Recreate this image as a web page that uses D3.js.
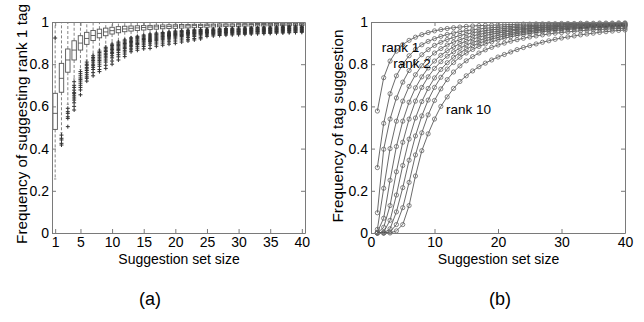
<!DOCTYPE html>
<html><head><meta charset="utf-8">
<script src="https://cdn.jsdelivr.net/npm/d3@7"></script>
<style>body{margin:0;background:#fff}</style>
</head><body><svg id="c" width="644" height="322"></svg>
<script>
// ---------- data ----------
const setSizes = [1,2,3,4,5,6,7,8,9,10,11,12,13,14,15,16,17,18,19,20,21,22,23,24,25,26,27,28,29,30,31,32,33,34,35,36,37,38,39,40];
const leftXTicks = [1,5,10,15,20,25,30,35,40];
const rightXTicks = [0,10,20,30,40];
const yTicks = [0,0.2,0.4,0.6,0.8,1];

const boxQ1  = [.491,.667,.762,.820,.867,.894,.912,.925,.935,.943,.949,.954,.957,.960,.962,.964,.966,.968,.969,.970,.971,.972,.973,.974,.975,.976,.977,.978,.978,.979,.980,.980,.981,.981,.982,.982,.983,.983,.984,.984];
const boxMed = [.567,.733,.820,.867,.900,.922,.936,.946,.953,.959,.964,.967,.970,.972,.974,.976,.977,.978,.979,.980,.981,.982,.983,.983,.984,.985,.985,.986,.986,.987,.987,.988,.988,.988,.989,.989,.989,.990,.990,.990];
const boxQ3  = [.662,.804,.872,.911,.935,.951,.960,.966,.971,.975,.978,.980,.981,.982,.983,.984,.985,.986,.987,.987,.988,.988,.989,.989,.990,.990,.991,.991,.991,.992,.992,.992,.993,.993,.993,.993,.994,.994,.994,.994];
const boxWhiskerLow  = [.256,.475,.610,.730,.775,.820,.848,.870,.886,.900,.910,.920,.930,.935,.940,.945,.950,.952,.955,.958,.960,.962,.963,.965,.968,.969,.970,.971,.972,.973,.974,.975,.976,.977,.978,.979,.980,.981,.982,.983];
const boxWhiskerHigh = [1,1,1,1,1,1,1,1,1,1,1,1,1,1,1,1,1,1,1,1,1,1,1,1,1,1,1,1,1,1,1,1,1,1,1,1,1,1,1,1];
const boxOutliers = [
 [.924],
 [.464,.449,.441,.425,.417],
 [.591,.575,.567,.551,.543,.504],
 [.717,.70,.69,.677,.665,.66,.65,.64,.63,.617,.60,.583],
 [.765,.755,.745,.735,.728,.72,.71,.70,.69,.678,.655],
 [.81,.80,.795,.785,.778,.77,.76,.75,.74,.733,.72],
 [.84,.832,.825,.818,.81,.80,.793,.785,.775,.76,.745],
 [.862,.855,.848,.84,.833,.825,.818,.81,.80,.79,.775,.765],
 [.88,.873,.866,.86,.852,.845,.838,.83,.82,.81,.795,.78],
 [.895,.889,.882,.876,.87,.863,.856,.85,.84,.83,.815,.80],
 [.905,.90,.894,.888,.882,.876,.87,.864,.855,.845,.835,.82],
 [.915,.91,.904,.898,.892,.886,.88,.874,.866,.858,.848,.836],
 [.925,.92,.914,.908,.902,.896,.89,.885,.876,.868,.859],
 [.932,.927,.921,.915,.91,.904,.898,.893,.885,.876,.866],
 [.938,.933,.928,.922,.917,.911,.906,.90,.892,.884,.873],
 [.943,.938,.933,.928,.923,.918,.913,.907,.90,.89,.875],
 [.947,.942,.938,.933,.928,.923,.918,.913,.905,.896,.885],
 [.95,.946,.942,.937,.932,.928,.923,.918,.91,.90,.89],
 [.953,.949,.945,.941,.936,.932,.928,.923,.915,.906,.895],
 [.957,.953,.949,.945,.941,.937,.933,.928,.92,.91,.899],
 [.959,.955,.951,.947,.943,.94,.936,.931,.924,.915,.905],
 [.961,.957,.953,.95,.946,.943,.939,.934,.927,.918,.91],
 [.963,.959,.956,.952,.949,.946,.942,.937,.931,.922,.915],
 [.965,.961,.958,.955,.951,.948,.945,.94,.934,.926,.92],
 [.966,.962,.959,.956,.953,.95,.947,.943,.938,.932],
 [.967,.963,.96,.957,.954,.951,.948,.945,.94,.934],
 [.968,.964,.961,.958,.955,.952,.949,.946,.941,.936],
 [.969,.965,.962,.959,.956,.953,.95,.947,.943,.938],
 [.97,.966,.963,.96,.957,.954,.951,.948,.944,.939],
 [.971,.967,.964,.961,.958,.955,.952,.949,.945,.94],
 [.972,.968,.965,.962,.959,.956,.953,.95,.946,.942],
 [.973,.969,.966,.963,.96,.957,.954,.951,.947,.943],
 [.974,.97,.967,.964,.961,.958,.955,.952,.948,.944],
 [.975,.971,.968,.965,.962,.959,.956,.953,.949,.945],
 [.976,.972,.969,.966,.963,.96,.957,.954,.95,.946],
 [.977,.973,.97,.967,.964,.961,.958,.955,.951,.947],
 [.978,.974,.971,.968,.965,.962,.959,.956,.952,.948],
 [.979,.975,.972,.969,.966,.963,.96,.957,.953,.949],
 [.98,.976,.973,.97,.967,.964,.961,.958,.954,.95],
 [.981,.977,.974,.971,.968,.965,.962,.959,.955,.951]
];

const rank1  = [.578,.736,.815,.862,.893,.913,.928,.940,.950,.958,.964,.969,.973,.976,.979,.981,.983,.984,.985,.986,.987,.988,.989,.990,.990,.991,.991,.992,.992,.993,.993,.993,.994,.994,.994,.995,.995,.995,.996,.996];
const rank2  = [.310,.520,.660,.745,.800,.840,.870,.892,.908,.921,.932,.941,.948,.954,.959,.963,.967,.970,.973,.975,.977,.979,.981,.982,.983,.984,.985,.986,.987,.988,.988,.989,.989,.990,.990,.991,.991,.992,.992,.993];
const rank3  = [.096,.397,.540,.640,.715,.770,.812,.845,.869,.889,.904,.917,.927,.936,.943,.949,.954,.959,.963,.966,.969,.972,.974,.976,.978,.979,.981,.982,.983,.984,.985,.986,.987,.987,.988,.988,.989,.989,.990,.990];
const rank4  = [.017,.212,.400,.530,.625,.695,.750,.793,.827,.853,.874,.891,.905,.916,.926,.934,.941,.947,.952,.956,.960,.963,.966,.969,.971,.973,.975,.977,.978,.980,.981,.982,.983,.984,.985,.985,.986,.987,.987,.988];
const rank5  = [.004,.070,.250,.410,.530,.620,.688,.740,.782,.815,.842,.864,.882,.897,.909,.919,.928,.936,.942,.948,.953,.957,.961,.964,.967,.970,.972,.974,.976,.977,.979,.980,.981,.982,.983,.984,.985,.985,.986,.986];
const rank6  = [0,.027,.130,.290,.430,.540,.625,.690,.740,.780,.812,.838,.859,.876,.891,.903,.913,.922,.930,.937,.942,.947,.952,.956,.960,.963,.966,.968,.970,.972,.974,.976,.977,.978,.980,.981,.982,.983,.983,.984];
const rank7  = [0,.005,.060,.180,.320,.445,.545,.623,.685,.735,.775,.807,.833,.854,.872,.887,.899,.910,.919,.927,.934,.940,.945,.950,.954,.958,.961,.964,.966,.968,.970,.972,.974,.975,.977,.978,.979,.980,.981,.982];
const rank8  = [0,0,.020,.100,.215,.345,.460,.555,.630,.690,.738,.777,.808,.833,.853,.870,.884,.896,.906,.915,.923,.930,.936,.941,.946,.950,.954,.957,.960,.962,.965,.967,.969,.971,.972,.974,.975,.976,.977,.978];
const rank9  = [0,0,.005,.040,.120,.240,.370,.475,.560,.628,.683,.727,.763,.792,.816,.836,.853,.868,.880,.891,.900,.909,.916,.923,.929,.934,.939,.943,.947,.950,.953,.956,.958,.961,.963,.965,.966,.968,.969,.970];
const rank10 = [0,0,0,.010,.040,.130,.270,.390,.470,.540,.600,.645,.685,.718,.745,.768,.788,.805,.820,.834,.846,.858,.869,.879,.888,.896,.904,.911,.918,.924,.929,.934,.939,.943,.947,.951,.954,.957,.960,.962];
const rankSeries = [rank1,rank2,rank3,rank4,rank5,rank6,rank7,rank8,rank9,rank10];
const rankLabelText = ["rank 1","rank 2","rank 10"];
const rankLabelAt = [[1.7,0.859],[3.5,0.782],[11.8,0.565]];

// ---------- drawing ----------
const FONT = '"Liberation Sans", Arial, Helvetica, sans-serif';
const svg = d3.select("#c");
const y = d3.scaleLinear().domain([0,1]).range([233,22]);
const xL = d3.scaleLinear().domain([0.5,40.5]).range([52,305]);
const xR = d3.scaleLinear().domain([0,40]).range([371,625]);
const fmt = d3.format("~g");
const AX = "#7a7a7a";

function frame(x, xticks) {
  const g = svg.append("g");
  const [x0,x1] = x.range();
  const styleAxis = sel => {
    sel.attr("font-family", FONT).attr("font-size", 14);
    sel.selectAll(".domain").attr("stroke", AX);
    sel.selectAll(".tick line").attr("stroke", AX);
    sel.selectAll(".tick text").attr("fill", "#000");
  };
  g.append("g").attr("transform","translate(0,233)")
    .call(d3.axisBottom(x).tickValues(xticks).tickSize(-4).tickSizeOuter(0).tickPadding(4).tickFormat(fmt)).call(styleAxis);
  g.append("g").attr("transform","translate(0,22)")
    .call(d3.axisTop(x).tickValues(xticks).tickSize(-4).tickSizeOuter(0).tickFormat("")).call(styleAxis);
  g.append("g").attr("transform",`translate(${x0},0)`)
    .call(d3.axisLeft(y).tickValues(yTicks).tickSize(-4).tickSizeOuter(0).tickPadding(3).tickFormat(fmt)).call(styleAxis);
  g.append("g").attr("transform",`translate(${x1},0)`)
    .call(d3.axisRight(y).tickValues(yTicks).tickSize(-4).tickSizeOuter(0).tickFormat("")).call(styleAxis);
}

// ---- left: box plots ----
const bw = xL(1.35) - xL(0.65);
const boxG = svg.append("g");
setSizes.forEach((n,i) => {
  const cx = xL(n);
  boxG.append("line").attr("x1",cx).attr("x2",cx).attr("y1",y(boxQ3[i])).attr("y2",y(boxWhiskerHigh[i]))
    .attr("stroke","#666").attr("stroke-width",0.8).attr("stroke-dasharray","3,2");
  boxG.append("line").attr("x1",cx).attr("x2",cx).attr("y1",y(boxQ1[i])).attr("y2",y(boxWhiskerLow[i]))
    .attr("stroke","#666").attr("stroke-width",0.8).attr("stroke-dasharray","3,2");
  boxG.append("line").attr("x1",cx-bw/4).attr("x2",cx+bw/4).attr("y1",y(boxWhiskerLow[i])).attr("y2",y(boxWhiskerLow[i]))
    .attr("stroke","#666").attr("stroke-width",0.8);
  boxG.append("rect").attr("x",cx-bw/2).attr("width",bw).attr("y",y(boxQ3[i])).attr("height",y(boxQ1[i])-y(boxQ3[i]))
    .attr("fill","none").attr("stroke","#555").attr("stroke-width",0.9);
  boxG.append("line").attr("x1",cx-bw/2).attr("x2",cx+bw/2).attr("y1",y(boxMed[i])).attr("y2",y(boxMed[i]))
    .attr("stroke","#555").attr("stroke-width",0.9);
  boxOutliers[i].forEach(v => {
    boxG.append("path").attr("transform",`translate(${cx},${y(v)})`).attr("d","M-2,0H2M0,-2V2")
      .attr("stroke","#333").attr("stroke-width",1).attr("fill","none");
  });
});
frame(xL, leftXTicks);

// ---- right: rank curves ----
const lineG = svg.append("g");
const line = d3.line().x((d,i)=>xR(setSizes[i])).y(d=>y(d));
rankSeries.forEach((s,k) => {
  lineG.append("path").attr("d", line(s)).attr("fill","none").attr("stroke","#444").attr("stroke-width",0.8);
  lineG.selectAll(null).data(s).enter().append("circle")
    .attr("cx",(d,i)=>xR(setSizes[i])).attr("cy",d=>y(d)).attr("r",2.1)
    .attr("fill","none").attr("stroke","#666").attr("stroke-width",0.8);
});
frame(xR, rightXTicks);
rankLabelText.forEach((t,i) => {
  svg.append("text").attr("x",xR(rankLabelAt[i][0])).attr("y",y(rankLabelAt[i][1]))
    .attr("font-family",FONT).attr("font-size",13.5).attr("fill","#000").text(t);
});

// ---- titles ----
const titles = [
  {x: 179, t: "Suggestion set size"},
  {x: 498.5, t: "Suggestion set size"}
];
titles.forEach(d => svg.append("text").attr("x",d.x).attr("y",264).attr("text-anchor","middle")
  .attr("font-family",FONT).attr("font-size",14).text(d.t));
svg.append("text").attr("transform","translate(27,124) rotate(-90)").attr("text-anchor","middle")
  .attr("font-family",FONT).attr("font-size",15.3).text("Frequency of suggesting rank 1 tag");
svg.append("text").attr("transform","translate(343,126) rotate(-90)").attr("text-anchor","middle")
  .attr("font-family",FONT).attr("font-size",15.3).text("Frequency of tag suggestion");
svg.append("text").attr("x",150).attr("y",305).attr("text-anchor","middle")
  .attr("font-family",FONT).attr("font-size",18).text("(a)");
svg.append("text").attr("x",500).attr("y",305).attr("text-anchor","middle")
  .attr("font-family",FONT).attr("font-size",18).text("(b)");
</script></body></html>
